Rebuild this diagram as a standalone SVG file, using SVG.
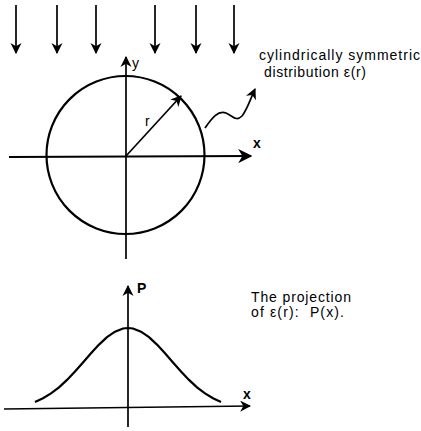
<svg xmlns="http://www.w3.org/2000/svg" width="421" height="431" viewBox="0 0 421 431">
<style>
.ln{stroke:#000;stroke-width:1.7;fill:none}
.th{stroke:#000;stroke-width:2.2;fill:none}
.t{font-family:"Liberation Sans",Arial,sans-serif;font-size:14px;fill:#000}
</style>
<defs>
<marker id="ah" viewBox="0 0 10 10" refX="9" refY="5" markerWidth="6.5" markerHeight="6.5" markerUnits="strokeWidth" orient="auto">
<path d="M0,0 L10,5 L0,10 L3,5 Z" fill="#000"/>
</marker>
</defs>
<rect width="421" height="431" fill="#fff"/>
<g id="rays">
<line class="ln" x1="16" y1="5" x2="16" y2="53" marker-end="url(#ah)"/>
<line class="ln" x1="57" y1="5" x2="57" y2="53" marker-end="url(#ah)"/>
<line class="ln" x1="96" y1="5" x2="96" y2="53" marker-end="url(#ah)"/>
<line class="ln" x1="155" y1="5" x2="155" y2="53" marker-end="url(#ah)"/>
<line class="ln" x1="196" y1="5" x2="196" y2="53" marker-end="url(#ah)"/>
<line class="ln" x1="234" y1="5" x2="234" y2="53" marker-end="url(#ah)"/>
</g>
<g id="circle">
<circle class="th" cx="125.5" cy="155" r="79"/>
</g>
<g id="connectors">
<line class="th" x1="9" y1="157" x2="251" y2="156" marker-end="url(#ah)"/>
<line class="ln" x1="126" y1="259" x2="126" y2="57" marker-end="url(#ah)"/>
<line class="ln" x1="126" y1="156" x2="181" y2="96" marker-end="url(#ah)"/>
<path class="ln" d="M205,128 C212,118 218,110 226,113 C233,116 236,122 242,116 C247,110 250,100 255,89" marker-end="url(#ah)"/>
<line class="ln" x1="128" y1="427" x2="128" y2="286" marker-end="url(#ah)"/>
<line class="ln" x1="4" y1="409" x2="250" y2="406" marker-end="url(#ah)"/>
</g>
<g id="curve">
<polyline class="th" points="35,402 43,398.3 51,393.4 59,387.3 67,379.9 75,371.6 83,362.5 91,353.3 99,344.6 107,337.2 115,331.7 123,328.5 128,328 133,328.5 141,331.7 149,337.2 157,344.6 165,353.3 173,362.5 181,371.6 189,379.9 197,387.3 205,393.4 213,398.3 221,402"/>
</g>
<g id="labels">
<text class="t" x="132" y="68" font-size="13">y</text>
<text class="t" x="145" y="126" font-size="13">r</text>
<text class="t" x="253" y="148" font-weight="bold" font-size="12">x</text>
<text class="t" x="259" y="60" textLength="161" lengthAdjust="spacing">cylindrically symmetric</text>
<text class="t" x="264" y="77" textLength="102" lengthAdjust="spacing">distribution ε(r)</text>
<text class="t" x="137" y="293" font-size="9" font-weight="bold">P</text>
<text class="t" x="243" y="399" font-weight="bold" font-size="12">x</text>
<text class="t" x="251" y="302" textLength="100" lengthAdjust="spacing">The projection</text>
<text class="t" x="251" y="317" textLength="93" lengthAdjust="spacing" xml:space="preserve">of ε(r):  P(x).</text>
</g>
</svg>
